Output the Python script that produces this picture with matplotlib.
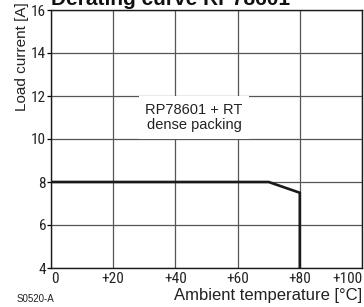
import matplotlib
matplotlib.use("Agg")
import matplotlib.pyplot as plt
from matplotlib import font_manager
from matplotlib.font_manager import FontProperties

temps = [0, 70, 80, 80]
current = [8, 8, 7.5, 4]
xticks = [0, 20, 40, 60, 80, 100]
xticklabels = ["0", "+20", "+40", "+60", "+80", "+100"]
yticks = [4, 6, 8, 10, 12, 14, 16]

plt.rcParams['font.family'] = ['Liberation Sans', 'DejaVu Sans']

# pick a condensed face for tick labels, if one is installed
cond = None
cands = []
for f in font_manager.fontManager.ttflist:
    nm = f.name
    st = str(f.stretch)
    if f.style != "normal" or f.weight not in (400, "normal", "regular"):
        continue
    if "Narrow" in nm or "Condensed" in nm or st in ("condensed", "semi-condensed", "extra-condensed", "625", "750"):
        cands.append(f)
pref = ["Liberation Sans Narrow", "Roboto Condensed", "Open Sans Condensed", "Noto Sans", "DejaVu Sans"]
for p in pref:
    for f in cands:
        if f.name == p:
            cond = f.fname
            break
    if cond:
        break
if cond is None and cands:
    cond = cands[0].fname

W, H = 364, 307
fig = plt.figure(figsize=(W / 100, H / 100), dpi=100)
ax = fig.add_axes([51 / W, (H - 268) / H, (362 - 51) / W, (268 - 10) / H])

ax.plot(temps, current, color="#1a1a1a", lw=1.9, solid_joinstyle="miter", zorder=3)
ax.set_xlim(0, 100)
ax.set_ylim(4, 16)
ax.set_xticks(xticks)
ax.set_xticklabels(xticklabels)
ax.set_yticks(yticks)
ax.grid(True, color="#555555", lw=0.9)
for s in ax.spines.values():
    s.set_color("#1a1a1a")
    s.set_linewidth(1.0)
ax.tick_params(axis="x", length=0, pad=3)
ax.tick_params(axis="y", length=3, width=0.9, pad=0.5, direction="out")
if cond:
    tp = FontProperties(fname=cond, size=11)
else:
    tp = FontProperties(family="Liberation Sans", size=9.5)
for lab in ax.get_xticklabels() + ax.get_yticklabels():
    lab.set_fontproperties(tp)
    lab.set_color("#222222")
xl = ax.get_xticklabels()
xl[0].set_ha("left")
xl[-1].set_ha("right")

ax.text(46, 11.0, "RP78601 + RT\ndense packing", ha="center", va="center",
        fontsize=10.5, color="#222222", linespacing=1.15,
        bbox=dict(facecolor="white", edgecolor="none", pad=4.5))

fig.text(51 / W, 1 - 5 / H, "Derating curve RP78601", ha="left", va="baseline",
         fontsize=15, fontweight="bold", color="#111111")
fig.text(22 / W, 1 - 57 / H, "Load current [A]", rotation=90, ha="center", va="center",
         fontsize=11, color="#222222")
fig.text(362 / W, 1 - 300 / H, "Ambient temperature [°C]", ha="right", va="baseline",
         fontsize=12, color="#222222")
fig.text(17 / W, 1 - 302 / H, "S0520-A", ha="left", va="baseline",
         fontsize=7, color="#222222")

fig.savefig("out.png", dpi=100)
